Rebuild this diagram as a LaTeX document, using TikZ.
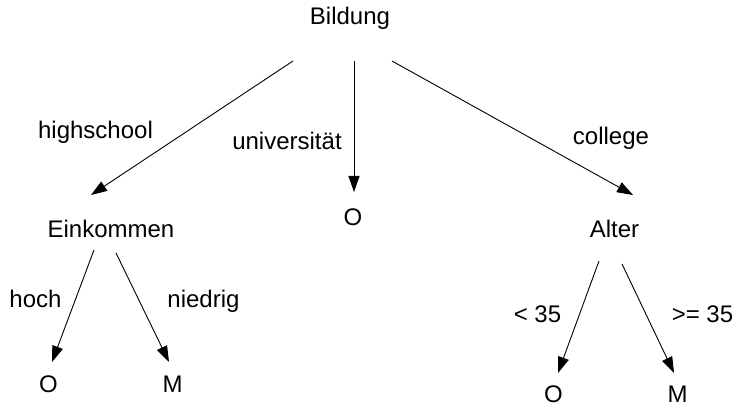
\documentclass[tikz,border=0pt]{standalone}
\usepackage{fontspec}
\setmainfont{Liberation Sans}
\usetikzlibrary{arrows.meta}
\begin{document}
\begin{tikzpicture}[x=1pt,y=-1pt,
  lbl/.style={anchor=base,inner sep=0pt,font=\fontsize{24}{28}\selectfont},
  edge/.style={line width=0.9pt,-{Triangle[length=16pt,width=11pt]}}]
\useasboundingbox (0,0) rectangle (745,414);
% nodes
\node[lbl] (bild) at (350,25) {Bildung};
\node[lbl] (eink) at (111,238) {Einkommen};
\node[lbl] (omid) at (353,226) {O};
\node[lbl] (alter) at (614.5,238) {Alter};
\node[lbl] (ol) at (48.5,392) {O};
\node[lbl] (ml) at (172.5,392) {M};
\node[lbl] (or) at (553.5,402) {O};
\node[lbl] (mr) at (677.5,402) {M};
% edge labels
\node[lbl] (lhs) at (95.5,139) {highschool};
\node[lbl] (luni) at (287,150) {universität};
\node[lbl] (lcol) at (611,145) {college};
\node[lbl] (lhoch) at (35.5,308) {hoch};
\node[lbl] (lnied) at (203.5,308) {niedrig};
\node[lbl] (llt) at (537.5,323) {< 35};
\node[lbl] (lge) at (702.5,323) {>= 35};
% connector end points
\coordinate (b1) at (293,61);
\coordinate (b2) at (354,61);
\coordinate (b3) at (392,61);
\coordinate (e0) at (91,195);
\coordinate (m0) at (354,192);
\coordinate (a0) at (633,195);
\coordinate (e1) at (94,250);
\coordinate (e2) at (116,253);
\coordinate (ol0) at (52,362);
\coordinate (ml0) at (169,362);
\coordinate (a1) at (599,261);
\coordinate (a2) at (622,264);
\coordinate (or0) at (558,373);
\coordinate (mr0) at (674,373);
% connectors
\draw[edge] (b1) -- (e0);
\draw[edge] (b2) -- (m0);
\draw[edge] (b3) -- (a0);
\draw[edge] (e1) -- (ol0);
\draw[edge] (e2) -- (ml0);
\draw[edge] (a1) -- (or0);
\draw[edge] (a2) -- (mr0);
\end{tikzpicture}
\end{document}
